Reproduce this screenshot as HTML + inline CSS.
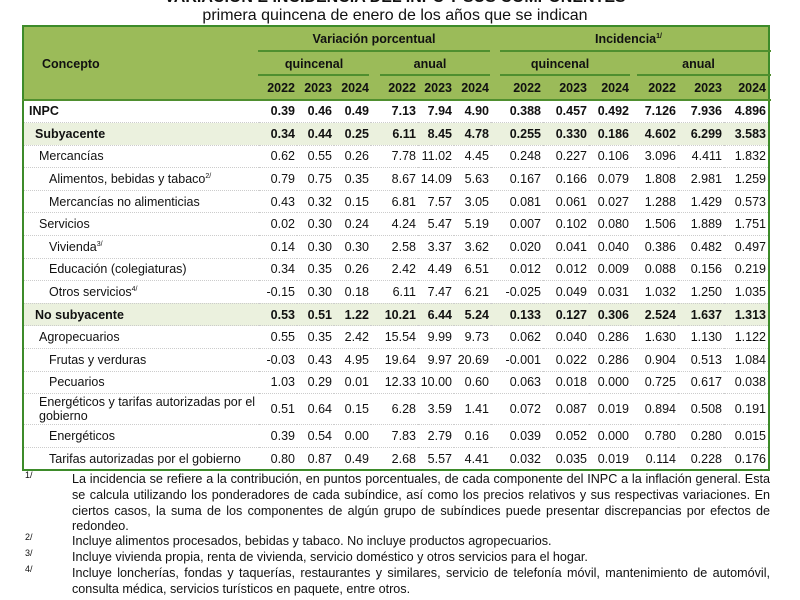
<!DOCTYPE html>
<html><head><meta charset="utf-8"><style>
body{margin:0;width:800px;height:600px;overflow:hidden;background:#fff;font-family:"Liberation Sans",sans-serif;color:#111;position:relative}
.t1{position:absolute;top:-11px;left:0;width:790px;text-align:center;font-weight:bold;font-size:16px}
.t2{position:absolute;top:7px;left:0;width:790px;text-align:center;font-size:16px}
table{position:absolute;left:22px;top:25px;border-collapse:collapse;border:2px solid #3d8b2a;font-size:12.5px;table-layout:fixed}
td{padding:0 2px 0 0;text-align:right;white-space:nowrap;height:21.6px;border-bottom:1px dotted #ccc}
td.c{text-align:left;white-space:normal}
tr.h td{background:#9bbb59;font-weight:bold;border:none;height:24.5px;text-align:center}
tr.h td.c{text-align:left}
tr.h3 td{text-align:right}
tr.b td{font-weight:bold}
tr.g td{background:#ebf1de}
.hl{position:absolute;height:2px;background:#4f8f2f}
.fn{position:absolute;left:72px;width:698px;font-size:12.6px;line-height:15.8px;text-align:justify}
.fs{position:absolute;left:25px;font-size:9px}
</style></head><body>
<div class="t1">VARIACIÓN E INCIDENCIA DEL INPC Y SUS COMPONENTES</div>
<div class="t2">primera quincena de enero de los años que se indican</div>
<table>
<colgroup><col style="width:236px"><col style="width:38px"><col style="width:37px"><col style="width:37px"><col style="width:47px"><col style="width:36px"><col style="width:37px"><col style="width:52px"><col style="width:46px"><col style="width:42px"><col style="width:47px"><col style="width:46px"><col style="width:45px"></colgroup>
<tr class="h"><td class="c" rowspan="3" style="padding-left:18px">Concepto</td><td colspan="6">Variación porcentual</td><td colspan="6">Incidencia<sup style="font-size:7px">1/</sup></td></tr>
<tr class="h"><td colspan="3">quincenal</td><td colspan="3">anual</td><td colspan="3">quincenal</td><td colspan="3">anual</td></tr>
<tr class="h h3"><td>2022</td><td>2023</td><td>2024</td><td>2022</td><td>2023</td><td>2024</td><td>2022</td><td>2023</td><td>2024</td><td>2022</td><td>2023</td><td>2024</td></tr>
<tr class="b"><td class="c" style="padding-left:5px">INPC</td><td>0.39</td><td>0.46</td><td>0.49</td><td>7.13</td><td>7.94</td><td>4.90</td><td>0.388</td><td>0.457</td><td>0.492</td><td>7.126</td><td>7.936</td><td>4.896</td></tr>
<tr class="b g"><td class="c" style="padding-left:11px">Subyacente</td><td>0.34</td><td>0.44</td><td>0.25</td><td>6.11</td><td>8.45</td><td>4.78</td><td>0.255</td><td>0.330</td><td>0.186</td><td>4.602</td><td>6.299</td><td>3.583</td></tr>
<tr><td class="c" style="padding-left:15px">Mercancías</td><td>0.62</td><td>0.55</td><td>0.26</td><td>7.78</td><td>11.02</td><td>4.45</td><td>0.248</td><td>0.227</td><td>0.106</td><td>3.096</td><td>4.411</td><td>1.832</td></tr>
<tr><td class="c" style="padding-left:25px">Alimentos, bebidas y tabaco<sup style="font-size:7px">2/</sup></td><td>0.79</td><td>0.75</td><td>0.35</td><td>8.67</td><td>14.09</td><td>5.63</td><td>0.167</td><td>0.166</td><td>0.079</td><td>1.808</td><td>2.981</td><td>1.259</td></tr>
<tr><td class="c" style="padding-left:25px">Mercancías no alimenticias</td><td>0.43</td><td>0.32</td><td>0.15</td><td>6.81</td><td>7.57</td><td>3.05</td><td>0.081</td><td>0.061</td><td>0.027</td><td>1.288</td><td>1.429</td><td>0.573</td></tr>
<tr><td class="c" style="padding-left:15px">Servicios</td><td>0.02</td><td>0.30</td><td>0.24</td><td>4.24</td><td>5.47</td><td>5.19</td><td>0.007</td><td>0.102</td><td>0.080</td><td>1.506</td><td>1.889</td><td>1.751</td></tr>
<tr><td class="c" style="padding-left:25px">Vivienda<sup style="font-size:7px">3/</sup></td><td>0.14</td><td>0.30</td><td>0.30</td><td>2.58</td><td>3.37</td><td>3.62</td><td>0.020</td><td>0.041</td><td>0.040</td><td>0.386</td><td>0.482</td><td>0.497</td></tr>
<tr><td class="c" style="padding-left:25px">Educación (colegiaturas)</td><td>0.34</td><td>0.35</td><td>0.26</td><td>2.42</td><td>4.49</td><td>6.51</td><td>0.012</td><td>0.012</td><td>0.009</td><td>0.088</td><td>0.156</td><td>0.219</td></tr>
<tr><td class="c" style="padding-left:25px">Otros servicios<sup style="font-size:7px">4/</sup></td><td>-0.15</td><td>0.30</td><td>0.18</td><td>6.11</td><td>7.47</td><td>6.21</td><td>-0.025</td><td>0.049</td><td>0.031</td><td>1.032</td><td>1.250</td><td>1.035</td></tr>
<tr class="b g"><td class="c" style="padding-left:11px">No subyacente</td><td>0.53</td><td>0.51</td><td>1.22</td><td>10.21</td><td>6.44</td><td>5.24</td><td>0.133</td><td>0.127</td><td>0.306</td><td>2.524</td><td>1.637</td><td>1.313</td></tr>
<tr><td class="c" style="padding-left:15px">Agropecuarios</td><td>0.55</td><td>0.35</td><td>2.42</td><td>15.54</td><td>9.99</td><td>9.73</td><td>0.062</td><td>0.040</td><td>0.286</td><td>1.630</td><td>1.130</td><td>1.122</td></tr>
<tr><td class="c" style="padding-left:25px">Frutas y verduras</td><td>-0.03</td><td>0.43</td><td>4.95</td><td>19.64</td><td>9.97</td><td>20.69</td><td>-0.001</td><td>0.022</td><td>0.286</td><td>0.904</td><td>0.513</td><td>1.084</td></tr>
<tr><td class="c" style="padding-left:25px">Pecuarios</td><td>1.03</td><td>0.29</td><td>0.01</td><td>12.33</td><td>10.00</td><td>0.60</td><td>0.063</td><td>0.018</td><td>0.000</td><td>0.725</td><td>0.617</td><td>0.038</td></tr>
<tr><td class="c" style="padding-left:15px;height:30px;line-height:14px">Energéticos y tarifas autorizadas por el gobierno</td><td>0.51</td><td>0.64</td><td>0.15</td><td>6.28</td><td>3.59</td><td>1.41</td><td>0.072</td><td>0.087</td><td>0.019</td><td>0.894</td><td>0.508</td><td>0.191</td></tr>
<tr><td class="c" style="padding-left:25px">Energéticos</td><td>0.39</td><td>0.54</td><td>0.00</td><td>7.83</td><td>2.79</td><td>0.16</td><td>0.039</td><td>0.052</td><td>0.000</td><td>0.780</td><td>0.280</td><td>0.015</td></tr>
<tr><td class="c" style="padding-left:25px">Tarifas autorizadas por el gobierno</td><td>0.80</td><td>0.87</td><td>0.49</td><td>2.68</td><td>5.57</td><td>4.41</td><td>0.032</td><td>0.035</td><td>0.019</td><td>0.114</td><td>0.228</td><td>0.176</td></tr>
</table>
<div class="hl" style="left:258px;width:232px;top:50px"></div>
<div class="hl" style="left:500px;width:271px;top:50px"></div>
<div class="hl" style="left:258px;width:111px;top:74px"></div>
<div class="hl" style="left:380px;width:110px;top:74px"></div>
<div class="hl" style="left:500px;width:130px;top:74px"></div>
<div class="hl" style="left:637px;width:134px;top:74px"></div>
<div class="hl" style="left:22px;width:749px;top:99px"></div>
<div class="fs" style="top:470px">1/</div>
<div class="fn" style="top:472px">La incidencia se refiere a la contribución, en puntos porcentuales, de cada componente del INPC a la inflación general. Esta se calcula utilizando los ponderadores de cada subíndice, así como los precios relativos y sus respectivas variaciones. En ciertos casos, la suma de los componentes de algún grupo de subíndices puede presentar discrepancias por efectos de redondeo.</div>
<div class="fs" style="top:532px">2/</div>
<div class="fn" style="top:534px">Incluye alimentos procesados, bebidas y tabaco. No incluye productos agropecuarios.</div>
<div class="fs" style="top:548px">3/</div>
<div class="fn" style="top:550px">Incluye vivienda propia, renta de vivienda, servicio doméstico y otros servicios para el hogar.</div>
<div class="fs" style="top:564px">4/</div>
<div class="fn" style="top:566px">Incluye loncherías, fondas y taquerías, restaurantes y similares, servicio de telefonía móvil, mantenimiento de automóvil, consulta médica, servicios turísticos en paquete, entre otros.</div>
</body></html>
